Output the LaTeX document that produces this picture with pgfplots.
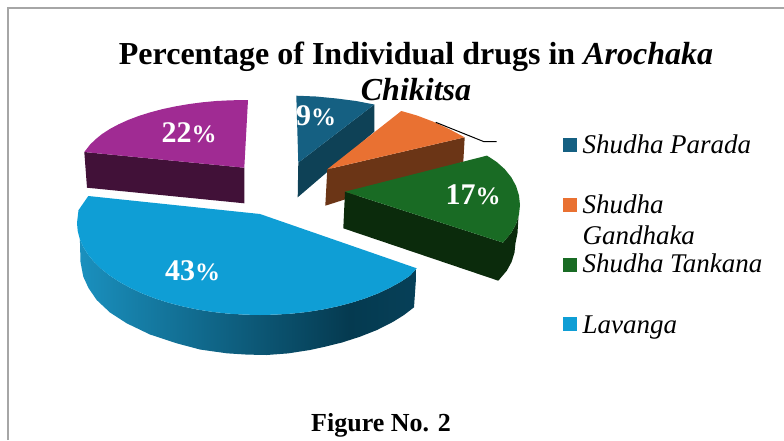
\documentclass[border=0pt]{standalone}
\usepackage{pgfplots}
\pgfplotsset{compat=1.18}
\usepackage{fontspec}
\setmainfont{Liberation Serif}
\definecolor{cA}{HTML}{156082}
\definecolor{cAd}{HTML}{0E4156}
\definecolor{cB}{HTML}{E97132}
\definecolor{cBd}{HTML}{6B3516}
\definecolor{cC}{HTML}{196B24}
\definecolor{cCd}{HTML}{0B2B0C}
\definecolor{cD}{HTML}{0F9ED5}
\definecolor{cE}{HTML}{A02B93}
\definecolor{cEd}{HTML}{411138}
\definecolor{sL}{HTML}{1A90BE}
\definecolor{sM}{HTML}{053A50}
\definecolor{sR}{HTML}{064058}
\definecolor{frameg}{HTML}{A6A6A6}
\pgfdeclarehorizontalshading{bluegrad}{100bp}{color(0bp)=(sL); color(25bp)=(sL); color(65bp)=(sM); color(75bp)=(sR); color(100bp)=(sR)}
\newcommand{\fs}[1]{\fontsize{#1}{#1}\selectfont}
\newcommand{\pct}[1]{\bfseries\fs{30}#1\fs{25}\%}
\begin{document}
\begin{tikzpicture}[x=1pt,y=1pt]
\path[use as bounding box] (0,0) rectangle (784,440);
\begin{axis}[at={(0,0)},anchor=south west,scale only axis,width=784pt,height=440pt,
  xmin=0,xmax=784,ymin=0,ymax=440,y dir=reverse,hide axis,clip=false]
% frame
\addplot[frameg,line width=1.2pt] coordinates {(8,440)(8,8)(784,8)};
% purple 22%
\addplot[fill=cEd,draw=none] coordinates {(84.3,152)(87,187.7)(244.3,203.3)(244.3,167.7)} --cycle;
\addplot[fill=cE,draw=none] coordinates {(248,100)(230.6,100.3)(216.3,101)(202.3,102.3)(188.6,104.1)(175.3,106.4)(162.5,109.1)(150.4,112.3)(138.9,115.9)(128.3,119.9)(118.6,124.3)(109.8,129)(102.1,134)(95.5,139.3)(90,144.7)(84.3,152)(244.3,167.7)} --cycle;
% dark blue 9%
\addplot[fill=cAd,draw=none] coordinates {(374.3,104.5)(374.3,131.7)(297.7,197.3)(298.3,162.7)} --cycle;
\addplot[fill=cA,draw=none] coordinates {(296.3,95.7)(316,96.5)(336.7,98.5)(356,101)(374.3,104.5)(298.3,162.7)} --cycle;
% orange
\addplot[fill=cBd,draw=none] coordinates {(464.7,137.3)(463.3,161.7)(325.3,205.7)(327.3,169.3)} --cycle;
\addplot[fill=cB,draw=none] coordinates {(401.3,111)(417,115.5)(433.3,121.7)(449,129)(464.7,137.3)(327.3,169.3)} --cycle;
% green 17%
\addplot[fill=cCd,draw=none] coordinates {(345,191.7)(503,242.6)(511.3,232.7)(516.1,223.9)(518.5,216)(517.5,233)(515.5,243)(514.5,252.5)(511.6,261.9)(506.8,270.7)(498.3,280.7)(343.3,228.3)} --cycle;
\addplot[fill=cC,draw=none] coordinates {(345,191.7)(487,155.6)(496.6,161.9)(504.7,169.1)(511.3,177.3)(516.1,186.1)(519,195.5)(520,205)(519,214.5)(516.1,223.9)(511.3,232.7)(503,242.6)} --cycle;
% blue 43%
\addplot[shade,shading=bluegrad,draw=none] coordinates {(416.7,268.3)(409.9,275.8)(400.2,282.1)(389.4,288)(377.7,293.5)(365,298.4)(351.5,302.7)(337.3,306.4)(322.6,309.5)(307.4,311.9)(291.8,313.6)(276,314.6)(260,315)(244,314.6)(228.2,313.6)(212.6,311.9)(197.4,309.5)(182.7,306.4)(168.5,302.7)(155,298.4)(142.4,293.5)(130.6,288)(119.8,282.1)(110.1,275.8)(101.5,269)(94.1,261.9)(88,254.5)(83.2,246.8)(79.8,239)(80,243)(80.5,262)(83.3,276.7)(88.5,288)(96.7,300)(110,312.5)(126.7,323.3)(150,334.5)(176.7,343.3)(200,349.5)(226.7,353.3)(247,354.6)(266.7,355)(288,353.4)(310,350)(325,346.7)(342,342.5)(360,336.7)(377,330)(393.3,321.7)(404,315)(414,307.3)} --cycle;
\addplot[fill=cD,draw=none] coordinates {(88.3,196)(260,214)(416.7,268.3)(409.9,275.8)(400.2,282.1)(389.4,288)(377.7,293.5)(365,298.4)(351.5,302.7)(337.3,306.4)(322.6,309.5)(307.4,311.9)(291.8,313.6)(276,314.6)(260,315)(244,314.6)(228.2,313.6)(212.6,311.9)(197.4,309.5)(182.7,306.4)(168.5,302.7)(155,298.4)(142.4,293.5)(130.6,288)(119.8,282.1)(110.1,275.8)(101.5,269)(94.1,261.9)(88,254.5)(83.2,246.8)(79.8,239)(77.7,231)(77,223)(78.5,210.2)} --cycle;
% leader line
\addplot[black,line width=1pt] coordinates {(435.7,122.3)(484,141.7)(496.7,141.7)};
% legend swatches
\addplot[fill=cA,draw=none] coordinates {(563,138)(577,138)(577,152)(563,152)} --cycle;
\addplot[fill=cB,draw=none] coordinates {(563,198)(577,198)(577,212)(563,212)} --cycle;
\addplot[fill=cC,draw=none] coordinates {(563,258)(577,258)(577,272)(563,272)} --cycle;
\addplot[fill=cD,draw=none] coordinates {(563,317.3)(577,317.3)(577,331.3)(563,331.3)} --cycle;
% texts
\node[anchor=base,inner sep=0pt] at (axis cs:416,64) {\fs{32}\bfseries Percentage of Individual drugs in \textit{Arochaka}};
\node[anchor=base,inner sep=0pt] at (axis cs:416,100) {\fs{32}\bfseries\itshape Chikitsa};
\node[anchor=base,inner sep=0pt] at (axis cs:381,431.7) {\fs{26}\bfseries Figure No. 2};
\node[anchor=base west,inner sep=0pt] at (axis cs:582.3,153.3) {\fs{27}\itshape Shudha Parada};
\node[anchor=base west,inner sep=0pt] at (axis cs:582.3,213.3) {\fs{27}\itshape Shudha};
\node[anchor=base west,inner sep=0pt] at (axis cs:582.3,244) {\fs{27}\itshape Gandhaka};
\node[anchor=base west,inner sep=0pt] at (axis cs:582.3,272.7) {\fs{27}\itshape Shudha Tankana};
\node[anchor=base west,inner sep=0pt] at (axis cs:582.3,333.3) {\fs{27}\itshape Lavanga};
\node[anchor=base,inner sep=0pt,white] at (axis cs:189,142.7) {\pct{22}};
\node[anchor=base,inner sep=0pt,white] at (axis cs:192.5,280) {\pct{43}};
\node[anchor=base,inner sep=0pt,white] at (axis cs:473,204) {\pct{17}};
\node[anchor=base,inner sep=0pt,white] at (axis cs:316,125.7) {\pct{9}};
\end{axis}
\end{tikzpicture}
\end{document}
